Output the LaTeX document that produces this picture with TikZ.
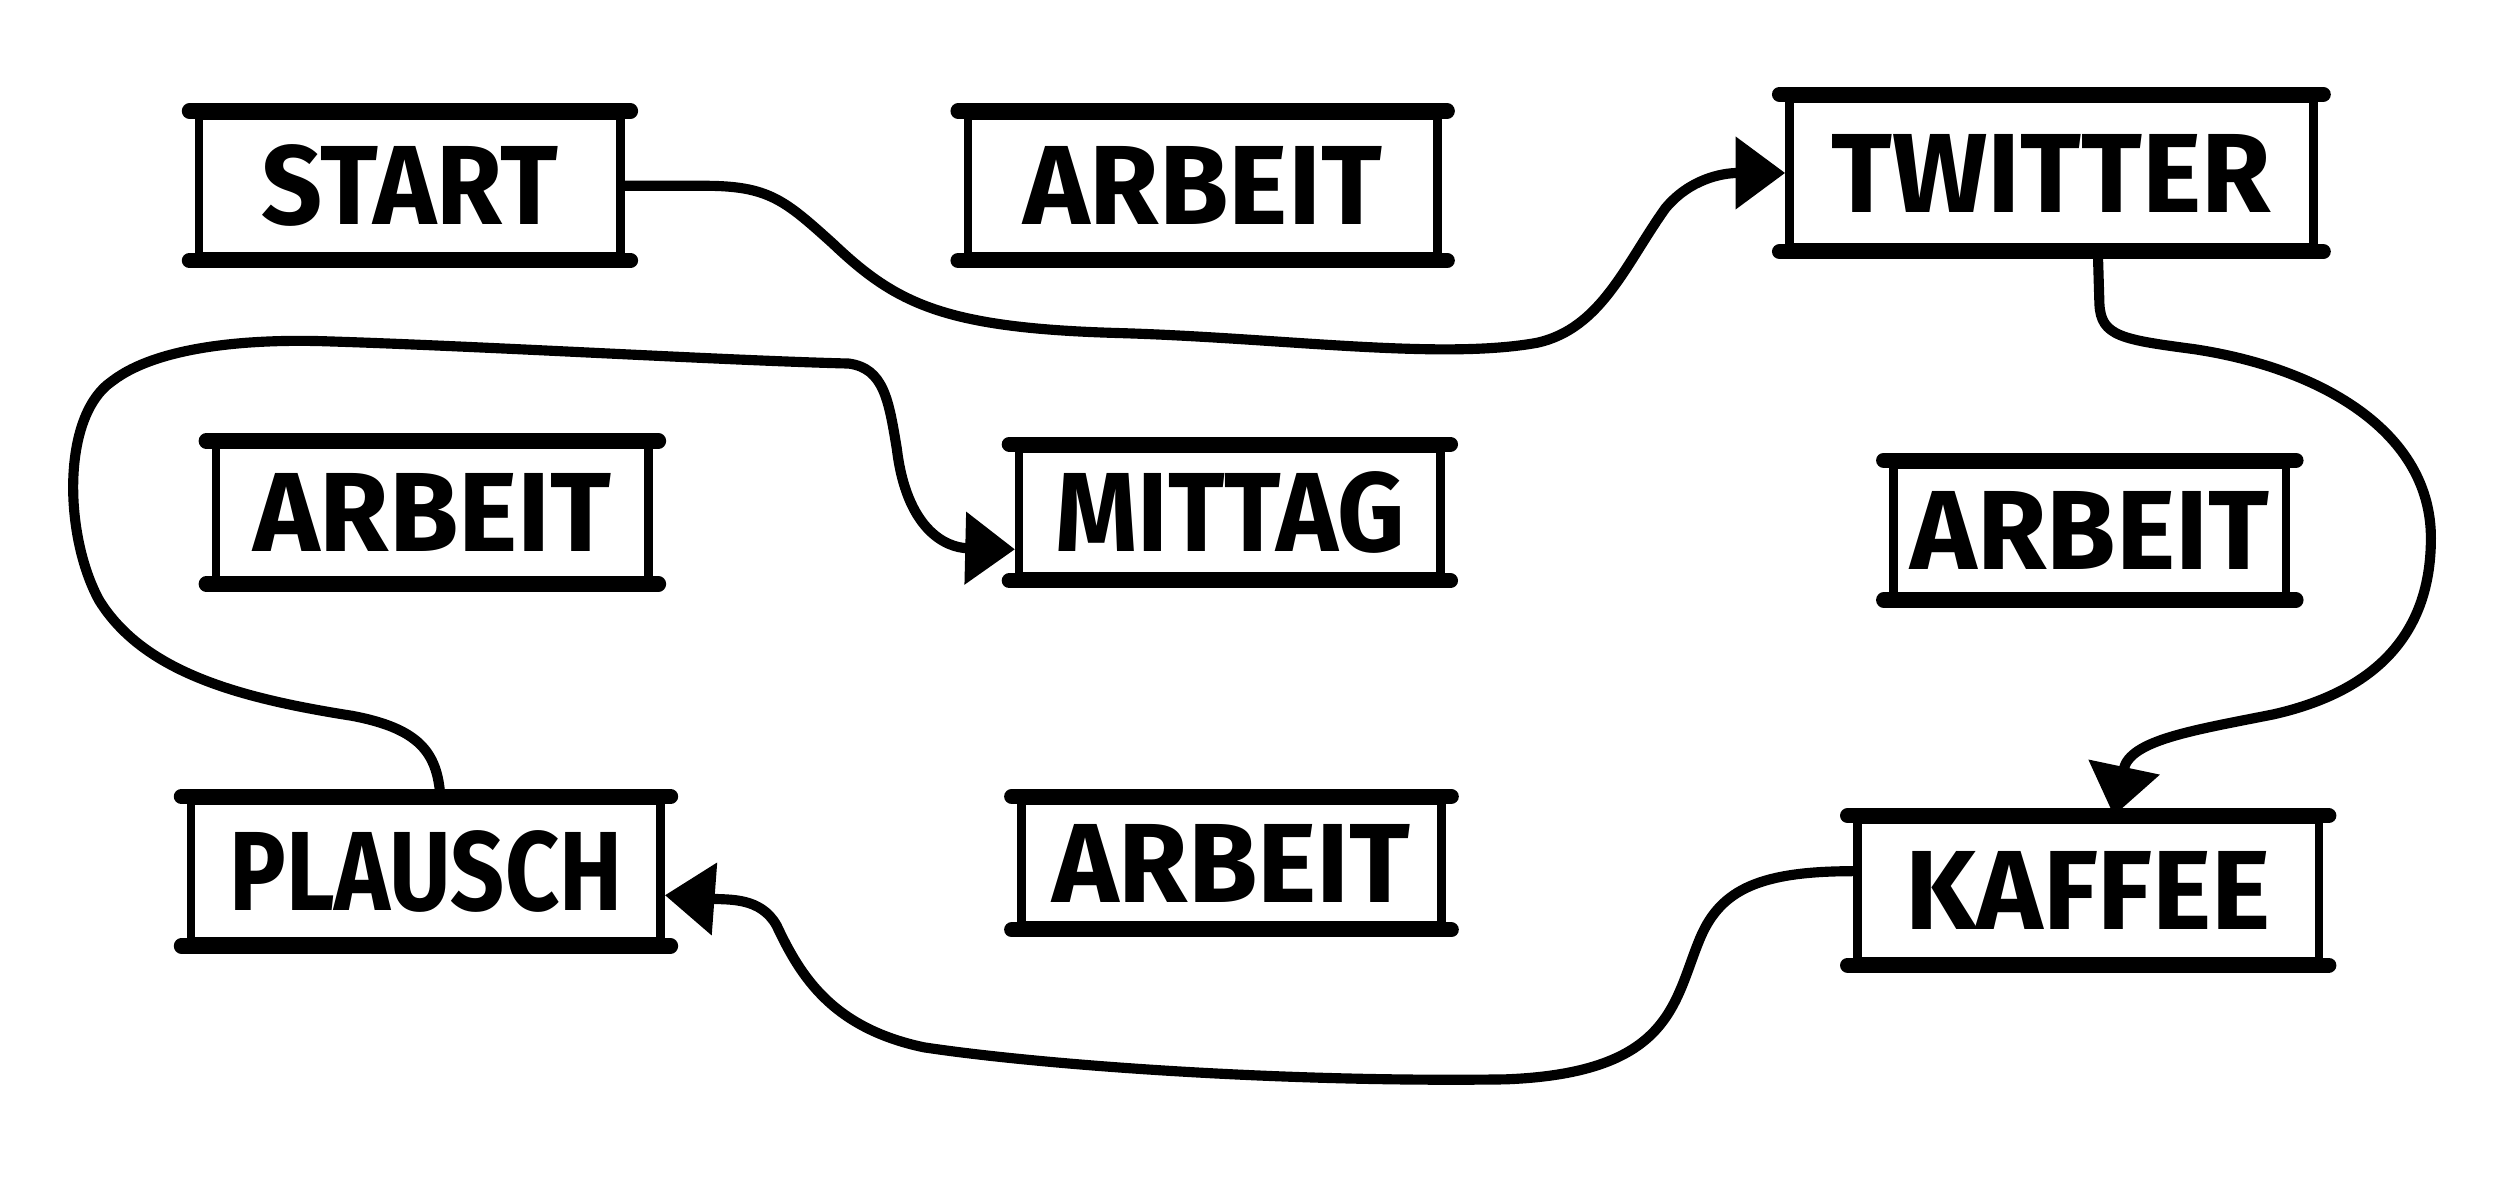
\documentclass[tikz,border=0pt]{standalone}
\usepackage{fontspec}
\setmainfont{Fira Sans}
\usetikzlibrary{arrows.meta}
\newcommand\hsq[2]{\scalebox{#1}[1]{#2}}
\begin{document}
\begin{tikzpicture}[x=0.01cm,y=-0.01cm,
  box/.style={draw, line width=1.5pt, inner sep=0pt,
    font=\fontsize{20}{20}\selectfont\bfseries},
  bar/.style={line width=2.7pt, line cap=round},
  conn/.style={line width=1.8pt, line cap=round, line join=round,
    -{Triangle[length=0.31cm,width=0.44cm]}}]
\fill[white] (0,0) rectangle (1568,744);
\useasboundingbox (0,0) rectangle (1568,744);
% boxes
\node[box, minimum width=2.63cm, minimum height=0.88cm] (start)   at (256,116) {\hsq{0.95}{START}};
\node[box, minimum width=2.93cm, minimum height=0.88cm] (arbA)    at (751,116) {ARBEIT};
\node[box, minimum width=3.27cm, minimum height=0.93cm] (twitter) at (1281,108) {TWITTER};
\node[box, minimum width=2.70cm, minimum height=0.84cm] (arbB)    at (270,320) {ARBEIT};
\node[box, minimum width=2.63cm, minimum height=0.80cm] (mittag)  at (768,320) {\hsq{0.93}{MITTAG}};
\node[box, minimum width=2.45cm, minimum height=0.82cm] (arbC)    at (1305,331) {ARBEIT};
\node[box, minimum width=2.93cm, minimum height=0.88cm] (plausch) at (266,544) {\hsq{0.84}{PLAUSCH}};
\node[box, minimum width=2.62cm, minimum height=0.78cm] (arbD)    at (769,539) {ARBEIT};
\node[box, minimum width=2.88cm, minimum height=0.88cm] (kaffee)  at (1304,556) {KAFFEE};
\foreach \n in {start,arbA,twitter,arbB,mittag,arbC,plausch,arbD,kaffee}{
  \draw[bar] ([xshift=-1pt]\n.north west) -- ([xshift=1pt]\n.north east);
  \draw[bar] ([xshift=-1pt]\n.south west) -- ([xshift=1pt]\n.south east);
}
% connectors
\draw[conn] (start.east) -- (440,116)
  .. controls (480,116) and (490,125) .. (520,152)
  .. controls (560,190) and (590,205) .. (700,208)
  .. controls (800,211) and (900,225) .. (960,214)
  .. controls (1000,205) and (1015,165) .. (1040,130)
  .. controls (1055,112) and (1075,108) .. (twitter.west);
\draw[conn] ([xshift=0.29cm]twitter.south) -- (1311,190)
  .. controls (1312,210) and (1325,212) .. (1370,218)
  .. controls (1450,230) and (1518,270) .. (1518,336)
  .. controls (1518,390) and (1490,430) .. (1420,446)
  .. controls (1370,456) and (1330,462) .. ([xshift=0.16cm]kaffee.north);
\draw[conn] ([yshift=0.12cm]kaffee.west)
  .. controls (1100,544) and (1075,555) .. (1062,585)
  .. controls (1045,625) and (1045,670) .. (940,674)
  .. controls (800,676) and (650,665) .. (577,654)
  .. controls (520,642) and (500,610) .. (485,578)
  .. controls (475,560) and (455,562) .. ([yshift=-0.15cm]plausch.east);
\draw[conn] ([xshift=0.09cm]plausch.north)
  .. controls (273,470) and (262,455) .. (220,447)
  .. controls (150,436) and (90,420) .. (62,375)
  .. controls (40,335) and (38,260) .. (70,238)
  .. controls (100,215) and (160,212) .. (200,213)
  .. controls (300,216) and (450,225) .. (530,227)
  .. controls (552,230) and (555,250) .. (560,280)
  .. controls (566,330) and (590,342) .. ([yshift=-0.23cm]mittag.west);
\end{tikzpicture}
\end{document}
